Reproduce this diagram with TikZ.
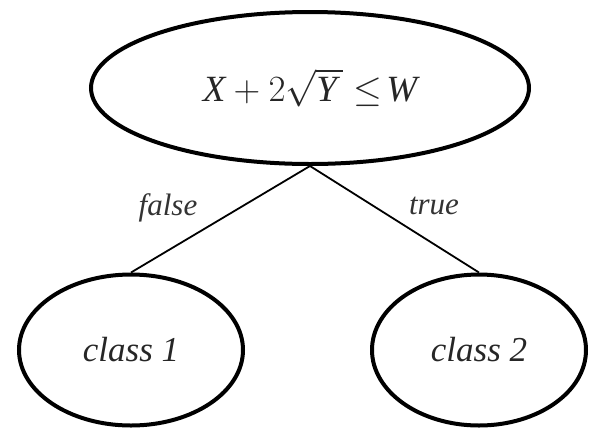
\documentclass[tikz,border=0pt]{standalone}
\usepackage{fix-cm}
\usepackage{fontspec}
\setmainfont{Liberation Serif}
\usetikzlibrary{shapes.geometric}

\begin{document}
\begin{tikzpicture}[
  x=1pt,y=-1pt,
  nd/.style={draw,ellipse,line width=4pt,inner sep=0pt,text=black!85},
  br/.style={line width=1.8pt},
  lbl/.style={font=\fontsize{31}{31}\selectfont\itshape,text=black!80}
]
\useasboundingbox (0,0) rectangle (589,432);
% test at the root
\node[nd,minimum width=438pt,minimum height=152pt,font=\fontsize{37}{37}\selectfont] (T) at (310,88)
  {$\textit{X}+2\sqrt{\textit{Y}\,}\leq\!\textit{W}$};
% the two leaves
\node[nd,minimum width=224pt,minimum height=151pt,font=\fontsize{35}{35}\selectfont\itshape] (C1) at (131,350) {class 1};
\node[nd,minimum width=214pt,minimum height=151pt,font=\fontsize{35}{35}\selectfont\itshape] (C2) at (479,350) {class 2};
% branches
\draw[br] (T.south) -- (C1.north);
\draw[br] (T.south) -- (C2.north);
% branch labels
\node[lbl] (fl) at (168,208) {false};
\node[lbl] (tl) at (434,206) {true};
\end{tikzpicture}
\end{document}
